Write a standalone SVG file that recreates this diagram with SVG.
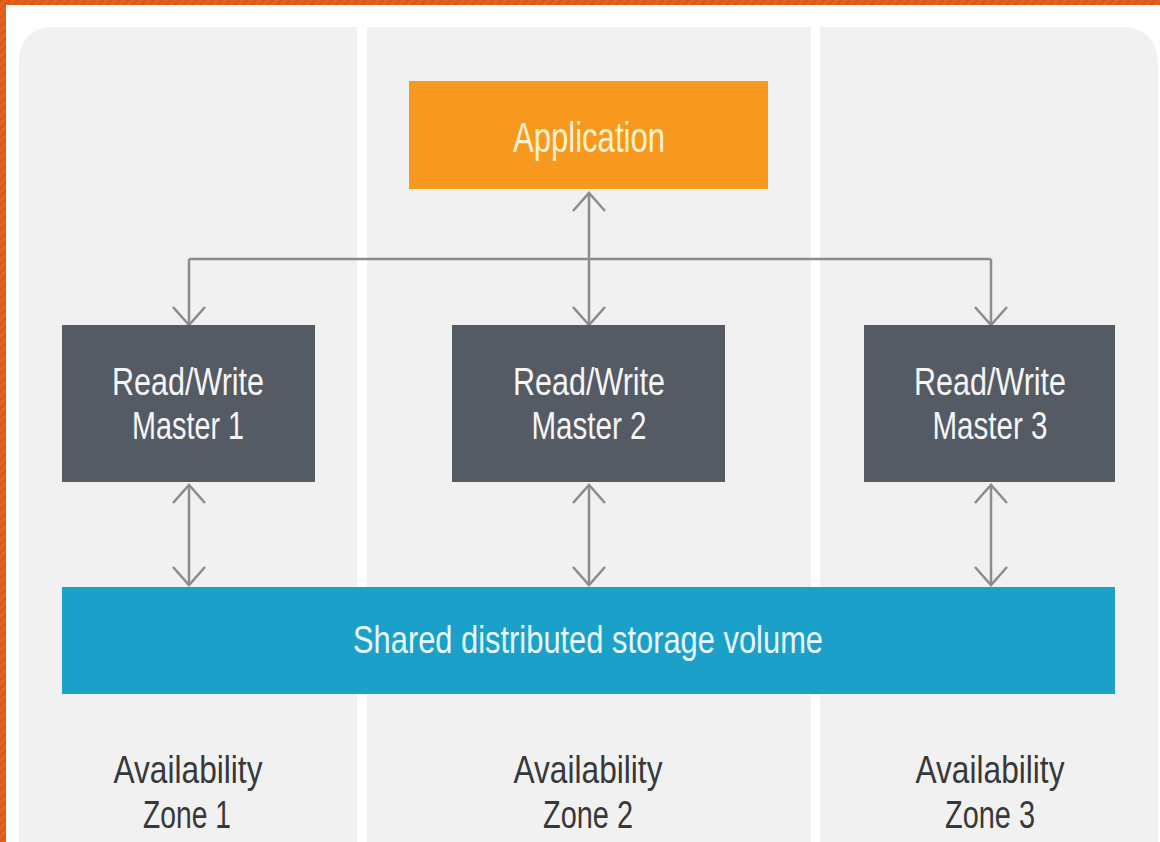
<svg xmlns="http://www.w3.org/2000/svg" width="1160" height="842" viewBox="0 0 1160 842">
  <style>
    .zone { fill: #f1f1f1; }
    .app { fill: #f8991f; }
    .master { fill: #545b64; }
    .storage { fill: #1ba1c9; }
    .label { font-family: "Liberation Sans", Arial, sans-serif; text-anchor: middle; }
    .light { fill: #f6f6f6; }
    .appText { fill: #fdf1d2; }
    .storeText { fill: #e8f8fb; }
    .dark { fill: #383838; }
    .link { fill: none; stroke: #8c8c8c; stroke-width: 2.5; }
  </style>
  <defs>
    <pattern id="stripes" patternUnits="userSpaceOnUse" width="6" height="6" patternTransform="rotate(45)">
      <rect width="6" height="6" fill="#e2621c"/>
      <rect width="2" height="6" fill="#d8561a"/>
    </pattern>
    <marker id="chev" viewBox="-20 -19 22 38" refX="0" refY="0" markerWidth="22" markerHeight="38" markerUnits="userSpaceOnUse" orient="auto-start-reverse">
      <path d="M-18,-16 L0,0 L-18,16" fill="none" stroke="#8c8c8c" stroke-width="2.5"/>
    </marker>
  </defs>

  <!-- page background and frame -->
  <rect x="0" y="0" width="1160" height="842" fill="#ffffff"/>
  <rect x="0" y="0" width="1160" height="5" fill="url(#stripes)"/>
  <rect x="0" y="0" width="6" height="842" fill="url(#stripes)"/>

  <!-- availability zone columns -->
  <g id="zone-columns">
    <path class="zone" d="M19,842 L19,63 Q19,27 55,27 L357,27 L357,842 Z"/>
    <rect class="zone" x="367" y="27" width="444" height="815"/>
    <path class="zone" d="M820,842 L820,27 L1120,27 Q1158,27 1158,65 L1158,842 Z"/>
  </g>

  <!-- connectors -->
  <g id="connectors">
    <!-- application to the bus and master 2 -->
    <line class="link" x1="589" y1="193" x2="589" y2="325" marker-start="url(#chev)" marker-end="url(#chev)"/>
    <!-- bus feeding the outer masters -->
    <line class="link" x1="189" y1="259" x2="991" y2="259"/>
    <line class="link" x1="189" y1="259" x2="189" y2="325" marker-end="url(#chev)"/>
    <line class="link" x1="991" y1="259" x2="991" y2="325" marker-end="url(#chev)"/>
    <!-- masters to shared storage -->
    <line class="link" x1="189" y1="485" x2="189" y2="585" marker-start="url(#chev)" marker-end="url(#chev)"/>
    <line class="link" x1="589" y1="485" x2="589" y2="585" marker-start="url(#chev)" marker-end="url(#chev)"/>
    <line class="link" x1="991" y1="485" x2="991" y2="585" marker-start="url(#chev)" marker-end="url(#chev)"/>
  </g>

  <g id="application">
    <rect class="app" x="409" y="81" width="359" height="108"/>
    <text class="label appText" x="589" y="152" font-size="42" textLength="152" lengthAdjust="spacingAndGlyphs">Application</text>
  </g>

  <g id="master-1">
    <rect class="master" x="62" y="325" width="253" height="157"/>
    <text class="label light" x="188" y="395" font-size="38" textLength="152" lengthAdjust="spacingAndGlyphs">Read/Write</text>
    <text class="label light" x="188" y="439" font-size="38" textLength="112" lengthAdjust="spacingAndGlyphs">Master 1</text>
  </g>

  <g id="master-2">
    <rect class="master" x="452" y="325" width="273" height="157"/>
    <text class="label light" x="589" y="395" font-size="38" textLength="152" lengthAdjust="spacingAndGlyphs">Read/Write</text>
    <text class="label light" x="589" y="439" font-size="38" textLength="115" lengthAdjust="spacingAndGlyphs">Master 2</text>
  </g>

  <g id="master-3">
    <rect class="master" x="864" y="325" width="251" height="157"/>
    <text class="label light" x="990" y="395" font-size="38" textLength="152" lengthAdjust="spacingAndGlyphs">Read/Write</text>
    <text class="label light" x="990" y="439" font-size="38" textLength="115" lengthAdjust="spacingAndGlyphs">Master 3</text>
  </g>

  <g id="storage">
    <rect class="storage" x="62" y="587" width="1053" height="107"/>
    <text class="label storeText" x="588" y="653" font-size="39" textLength="470" lengthAdjust="spacingAndGlyphs">Shared distributed storage volume</text>
  </g>

  <g id="zone-1-label">
    <text class="label dark" x="188" y="783" font-size="39" textLength="149" lengthAdjust="spacingAndGlyphs">Availability</text>
    <text class="label dark" x="187" y="828" font-size="39" textLength="88" lengthAdjust="spacingAndGlyphs">Zone 1</text>
  </g>
  <g id="zone-2-label">
    <text class="label dark" x="588" y="783" font-size="39" textLength="149" lengthAdjust="spacingAndGlyphs">Availability</text>
    <text class="label dark" x="588" y="828" font-size="39" textLength="90" lengthAdjust="spacingAndGlyphs">Zone 2</text>
  </g>
  <g id="zone-3-label">
    <text class="label dark" x="990" y="783" font-size="39" textLength="149" lengthAdjust="spacingAndGlyphs">Availability</text>
    <text class="label dark" x="990" y="828" font-size="39" textLength="90" lengthAdjust="spacingAndGlyphs">Zone 3</text>
  </g>
</svg>
